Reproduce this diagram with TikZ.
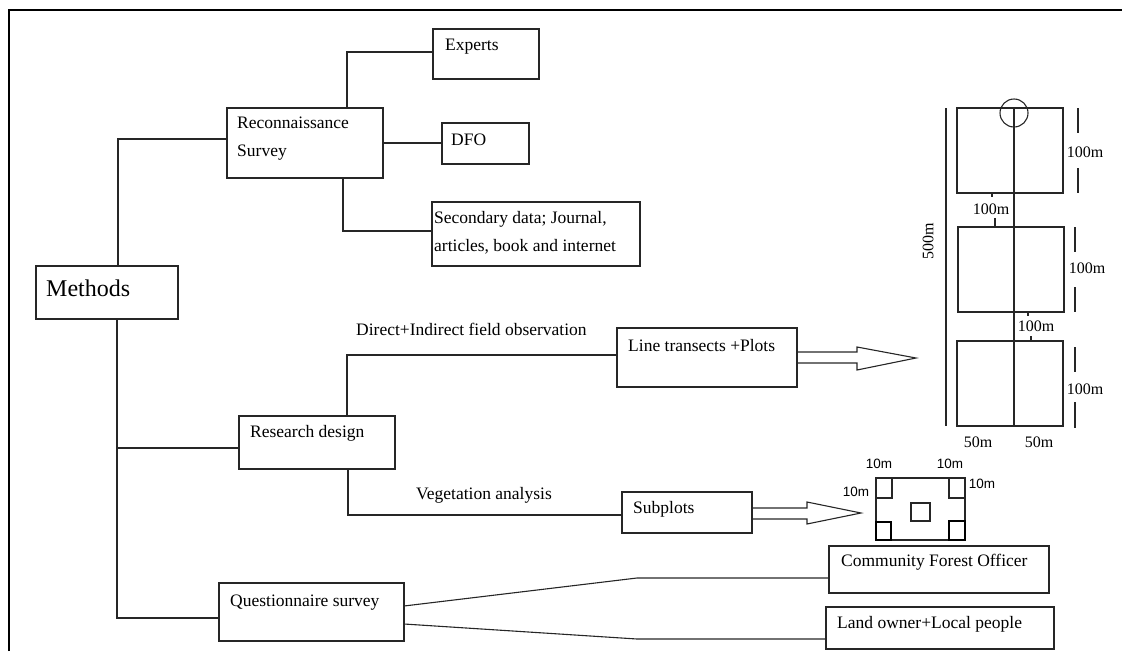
\documentclass[tikz,border=0pt]{standalone}
\usepackage{fontspec}
\setmainfont{Liberation Serif}
\newfontfamily\arialf{Liberation Sans}
\begin{document}
\begin{tikzpicture}[x=1pt,y=-1pt,
  box/.style={draw=black!85, line width=1.1pt, anchor=north west, inner sep=0pt, outer sep=0pt},
  txt/.style={anchor=west, inner sep=0pt, align=left, font=\fontsize{17.5}{27.5}\selectfont},
  lbl/.style={inner sep=0pt, font=\fontsize{16}{18}\selectfont},
  slbl/.style={inner sep=0pt, font=\arialf\fontsize{13.5}{15}\selectfont},
  conn/.style={draw=black!85, line width=1.1pt},
  frame/.style={draw=black, line width=2pt},
  plan/.style={draw=black!85, line width=1.1pt},
  thick plan/.style={draw=black, line width=1.8pt}
]
\useasboundingbox (0,0) rectangle (1122,651);
% frame
\draw[frame] (9,651) -- (9,10) -- (1122,10);

% boxes
\node[box, minimum width=142pt, minimum height=53pt] (methods) at (36,266) {};
\node[box, minimum width=156pt, minimum height=70pt] (recon) at (227,108) {};
\node[box, minimum width=106pt, minimum height=50pt] (experts) at (433,29) {};
\node[box, minimum width=87pt, minimum height=41pt] (dfo) at (442,123) {};
\node[box, minimum width=208pt, minimum height=64pt] (secondary) at (432,202) {};
\node[box, minimum width=156pt, minimum height=53pt] (research) at (239,416) {};
\node[box, minimum width=185pt, minimum height=58pt] (quest) at (219,583) {};
\node[box, minimum width=180pt, minimum height=59pt] (lt) at (617,328) {};
\node[box, minimum width=130pt, minimum height=41pt] (subplots) at (622,492) {};
\node[box, minimum width=220pt, minimum height=47pt] (community) at (829,546) {};
\node[box, minimum width=228pt, minimum height=42pt] (landowner) at (826,607) {};

% box texts
\node[txt, font=\fontsize{24}{28}\selectfont] (tmethods) at (46,288) {Methods};
\node[txt] (trecon) at (237,138.5) {Reconnaissance\\Survey};
\node[txt] (texperts) at (445,47) {Experts};
\node[txt] (tdfo) at (451,140) {DFO};
\node[txt] (tsecondary) at (434,233) {Secondary data; Journal,\\articles, book and internet};
\node[txt] (tresearch) at (250,433) {Research design};
\node[txt] (tquest) at (230,603) {Questionnaire survey};
\node[txt] (tlt) at (628,346) {Line transects +Plots};
\node[txt] (tsub) at (633,509) {Subplots};
\node[txt] (tcomm) at (841,562) {Community Forest Officer};
\node[txt] (tland) at (837,624) {Land owner+Local people};
\node[txt] (tdirect) at (356,329) {Direct+Indirect field observation};
\node[txt] (tveg) at (416,495) {Vegetation analysis};

% connectors
\draw[conn] ([xshift=82pt]methods.north west) |- ([yshift=4pt]recon.west);
\draw[conn] ([xshift=120pt]recon.north west) |- ([yshift=2pt]experts.west);
\draw[conn] (recon.east) -- (recon.east -| dfo.west);
\draw[conn] ([xshift=116pt]recon.south west) |- ([yshift=3pt]secondary.west);
\draw[conn] ([xshift=81pt]methods.south west) |- ([yshift=-6pt]quest.west);
\draw[conn] ([yshift=-5.5pt]research.west) -| ([xshift=81pt]methods.south west);
\draw[conn] ([xshift=108pt]research.north west) |- ([yshift=2.5pt]lt.west);
\draw[conn] ([xshift=109pt]research.south west) |- ([yshift=-2.5pt]subplots.west);
\coordinate (qup) at (637,578);
\coordinate (qdown) at (637,639);
\draw[conn] ([yshift=6pt]quest.east) -- (qup) -- (qup -| community.west);
\draw[conn] ([yshift=-12pt]quest.east) -- (qdown) -- (qdown -| landowner.west);

% hollow arrows
\draw[conn, line join=miter] ([yshift=5.5pt]lt.east) -- ++(60,0) -- ++(0,-5) -- ++(59,11) -- ++(-59,12) -- ++(0,-7) -- ++(-60,0);
\draw[conn, line join=miter] ([yshift=4.5pt]subplots.east) -- ++(55,0) -- ++(0,-6) -- ++(54,11) -- ++(-54,11) -- ++(0,-5) -- ++(-55,0);

% transect plan
\draw[plan] (957,108) rectangle (1063,193);
\draw[plan] (958,227) rectangle (1064,312);
\draw[plan] (957,341) rectangle (1063,426);
\draw[plan] (1014,108) -- (1014,426);
\draw[plan] (946,108) -- (946,426);
\draw[plan] (1014,113) circle (14);
\draw[plan] (1078,108) -- (1078,133) (1078,168) -- (1078,193);
\draw[plan] (1075,227) -- (1075,252) (1075,287) -- (1075,312);
\draw[plan] (1075,347) -- (1075,372) (1075,402) -- (1075,428);
\draw[plan] (995,218) -- (995,227) (992,193) -- (992,197);
\draw[plan] (1031,336) -- (1031,341) (1028,312) -- (1028,316);
\node[lbl] (l100a) at (1085,152) {100m};
\node[lbl] (l100b) at (1087,268) {100m};
\node[lbl] (l100c) at (1085,389) {100m};
\node[lbl] (l100d) at (991,209) {100m};
\node[lbl] (l100e) at (1036,326) {100m};
\node[lbl] (l50a) at (978,442) {50m};
\node[lbl] (l50b) at (1039,442) {50m};
\node[lbl, rotate=90] (l500) at (928,241) {500m};

% subplot plan
\draw[plan] (876,478) rectangle (965,540);
\draw[plan] (876,478) rectangle (892,498);
\draw[plan] (949,478) rectangle (965,498);
\draw[thick plan] (876,522) rectangle (891,540);
\draw[thick plan] (949,521) rectangle (965,540);
\draw[plan] (911,503) rectangle (930,521);
\node[slbl] (s10a) at (879,464) {10m};
\node[slbl] (s10b) at (950,464) {10m};
\node[slbl] (s10c) at (856,492) {10m};
\node[slbl] (s10d) at (982,484) {10m};
\end{tikzpicture}
\end{document}
